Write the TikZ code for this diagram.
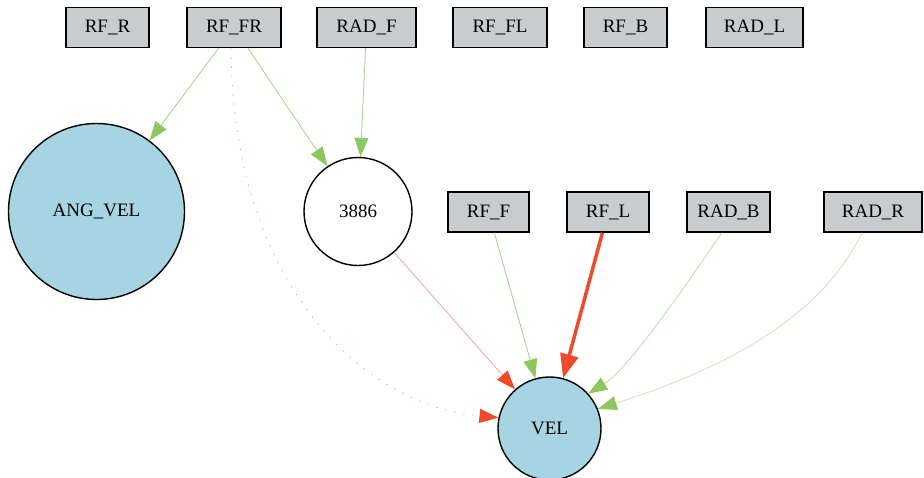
\documentclass[tikz,border=0pt]{standalone}
\usepackage{fontspec}
\setmainfont{Liberation Serif}
\usetikzlibrary{arrows.meta}
\definecolor{boxgray}{HTML}{C8CCCF}
\definecolor{circblue}{HTML}{A6D4E2}
\definecolor{tipgreen}{HTML}{8CC85E}
\definecolor{linegreen}{HTML}{A3D37C}
\definecolor{palegreen}{HTML}{B9DF9C}
\definecolor{palergreen}{HTML}{C9E8B2}
\definecolor{tipred}{HTML}{F04A2B}
\definecolor{palered}{HTML}{F5A39A}
\begin{document}
\begin{tikzpicture}[x=1pt,y=-1pt,
  every node/.style={font=\fontsize{19}{22}\selectfont, inner sep=0pt},
  inbox/.style={draw=black, line width=1.4pt, fill=boxgray, minimum height=40pt},
  bluecirc/.style={circle, draw=black, line width=1.4pt, fill=circblue},
  whitecirc/.style={circle, draw=black, line width=1.4pt, fill=white},
  gtip/.style={-{Triangle[length=19pt,width=14pt,color=tipgreen]}},
  rtip/.style={-{Triangle[length=19pt,width=14pt,color=tipred]}},
  gedge/.style={gtip, draw=linegreen, line width=0.8pt},
]
\useasboundingbox (0,0) rectangle (924,477);
% top row
\node[inbox, minimum width=83pt] (RFR)  at (107.5,27.5) {RF\_R};
\node[inbox, minimum width=94pt] (RFFR) at (234,27.5)   {RF\_FR};
\node[inbox, minimum width=99pt] (RADF) at (366.5,27.5) {RAD\_F};
\node[inbox, minimum width=94pt] (RFFL) at (500,27.5)   {RF\_FL};
\node[inbox, minimum width=83pt] (RFB)  at (625.5,27.5) {RF\_B};
\node[inbox, minimum width=97pt] (RADL) at (754.5,27.5) {RAD\_L};
% second row
\node[inbox, minimum width=81pt] (RFF)  at (488.5,212) {RF\_F};
\node[inbox, minimum width=82pt] (RFL)  at (608,212)   {RF\_L};
\node[inbox, minimum width=83pt] (RADB) at (728.5,212) {RAD\_B};
\node[inbox, minimum width=98pt] (RADR) at (873,212)   {RAD\_R};
% circles
\node[bluecirc, minimum size=176pt] (ANG) at (96.5,211.5) {ANG\_VEL};
\node[whitecirc, minimum size=108pt] (N3886) at (358,211.5) {3886};
\node[bluecirc, minimum size=103pt] (VEL) at (549.5,428.5) {VEL};
% edges
\draw[gedge] (RFFR) -- (ANG);
\draw[gedge] (RFFR) -- (N3886);
\draw[gedge] (RADF) -- (N3886);
\draw[rtip, draw=palered, line width=0.9pt, dash pattern=on 1.2pt off 8pt] ([xshift=-3pt]RFFR.south) .. controls (232,280) and (360,405) .. (VEL.168);
\draw[rtip, draw=palered, line width=0.8pt] (N3886) -- (VEL);
\draw[gedge] (RFF) -- (VEL);
\draw[-{Triangle[length=24pt,width=18pt]}, draw=tipred, line width=3.5pt] (RFL) -- (VEL);
\draw[gtip, draw=palegreen, line width=0.8pt] ([xshift=-6.5pt]RADB.south) .. controls (694,273) and (630,368) .. (VEL.42);
\draw[gtip, draw=palergreen, line width=0.8pt] ([xshift=-11pt]RADR.south) .. controls (820,320) and (720,370) .. (VEL.22);
\end{tikzpicture}
\end{document}
